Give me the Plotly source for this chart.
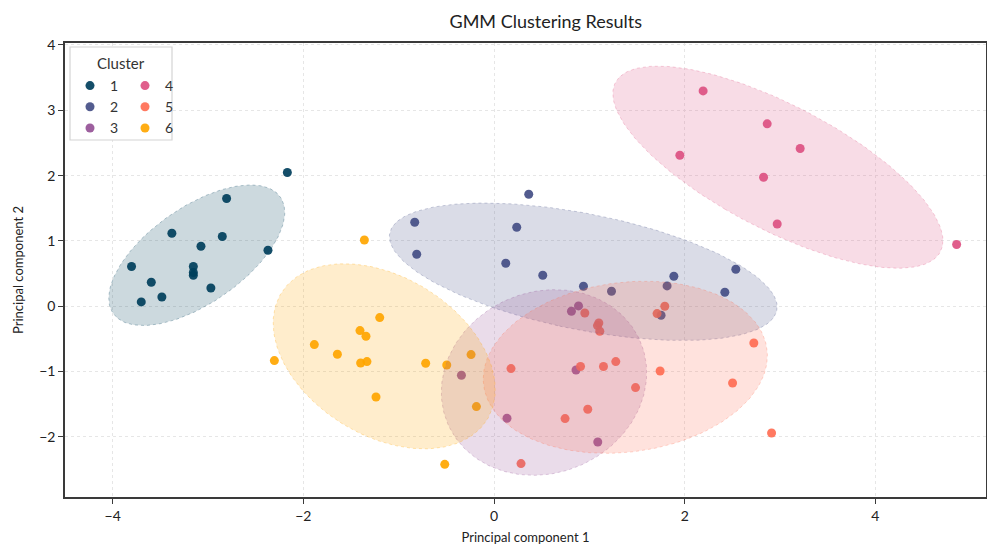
import numpy as np
import plotly.graph_objects as go

# ---------------- data ----------------
cluster_names = ["1", "2", "3", "4", "5", "6"]
colors = ["#003f5c", "#444e86", "#955196", "#dd5182", "#ff6e54", "#ffa600"]

c1_x = [-2.168, -2.805, -3.379, -2.850, -3.074, -2.371, -3.802, -3.154, -3.154, -3.154, -3.595, -2.970, -3.484, -3.700]
c1_y = [2.047, 1.649, 1.118, 1.067, 0.919, 0.858, 0.608, 0.608, 0.516, 0.475, 0.368, 0.280, 0.142, 0.066]

c2_x = [-0.832, 0.364, 0.238, -0.811, 0.123, 0.511, 0.938, 1.232, 1.815, 1.886, 2.536, 2.421, 1.752]
c2_y = [1.286, 1.715, 1.210, 0.796, 0.658, 0.475, 0.306, 0.230, 0.311, 0.459, 0.567, 0.214, -0.138]

c3_x = [-0.342, 0.136, 1.088, 0.860, 0.886, 0.812]
c3_y = [-1.057, -1.715, -2.078, -0.975, 0.005, -0.077]

c4_x = [2.193, 2.865, 3.211, 1.949, 2.827, 2.970, 4.852]
c4_y = [3.297, 2.792, 2.415, 2.312, 1.975, 1.260, 0.945]

c5_x = [0.952, 1.791, 1.710, 1.099, 1.085, 1.109, 2.725, 0.178, 0.907, 1.148, 1.277, 1.742, 2.502, 1.484, 0.745, 0.983, 2.911, 0.283]
c5_y = [-0.103, 0.000, -0.112, -0.256, -0.296, -0.383, -0.562, -0.954, -0.923, -0.923, -0.847, -0.991, -1.175, -1.245, -1.720, -1.577, -1.940, -2.409]

c6_x = [-1.360, -1.199, -1.406, -1.343, -1.885, -2.304, -1.643, -1.399, -1.333, -0.717, -0.496, -0.241, -1.238, -0.185, -0.517]
c6_y = [1.015, -0.173, -0.372, -0.459, -0.587, -0.832, -0.735, -0.868, -0.847, -0.873, -0.899, -0.740, -1.389, -1.536, -2.420]

# GMM component means and (drawn-scale) covariance matrices
means = [(-3.118, 0.781), (0.936, 0.528), (0.524, -1.167), (2.977, 2.129), (1.377, -0.934), (-1.152, -0.766)]
covs = [
    [[0.852, 0.607], [0.607, 1.158]],
    [[4.135, -1.094], [-1.094, 1.107]],
    [[1.16, 0.16], [0.16, 2.02]],
    [[2.997, -1.949], [-1.949, 2.393]],
    [[2.22, 0.265], [0.265, 1.735]],
    [[1.357, -0.594], [-0.594, 2.007]],
]

xs = [c1_x, c2_x, c3_x, c4_x, c5_x, c6_x]
ys = [c1_y, c2_y, c3_y, c4_y, c5_y, c6_y]


def rgba(hex_color, a):
    h = hex_color.lstrip("#")
    r, g, b = int(h[0:2], 16), int(h[2:4], 16), int(h[4:6], 16)
    return f"rgba({r},{g},{b},{a})"


def ellipse(mean, cov, n=200):
    vals, vecs = np.linalg.eigh(np.array(cov))
    L = vecs @ np.diag(np.sqrt(vals))
    t = np.linspace(0, 2 * np.pi, n)
    pts = L @ np.vstack([np.cos(t), np.sin(t)])
    return pts[0] + mean[0], pts[1] + mean[1]


FONT = "Lato, 'DejaVu Sans', sans-serif"
fig = go.Figure()

for i in range(6):
    fig.add_trace(go.Scatter(
        x=xs[i], y=ys[i], mode="markers", name=cluster_names[i],
        marker=dict(size=9, color=colors[i], opacity=0.92, line=dict(width=0)),
        legend="legend" if i < 3 else "legend2",
    ))

for i in range(6):
    ex, ey = ellipse(means[i], covs[i])
    fig.add_trace(go.Scatter(
        x=ex, y=ey, mode="lines", fill="toself",
        fillcolor=rgba(colors[i], 0.2),
        line=dict(color=rgba(colors[i], 0.28), width=1, dash="dot"),
        showlegend=False, hoverinfo="skip",
    ))

# plot area in pixels: x 65..986, y 43..497
W, H = 987, 546
ml, mr, mt, mb = 65, 1, 43, 49
pw, ph = W - ml - mr, H - mt - mb


def px_x(p):
    return (p - ml) / pw


def px_y(p):
    return 1 - (p - mt) / ph


fig.add_shape(type="rect", xref="paper", yref="paper",
              x0=px_x(70), x1=px_x(172), y0=px_y(140), y1=px_y(47),
              fillcolor="white", line=dict(color="#d4d4d4", width=1.2), layer="above")
fig.add_annotation(text="Cluster", xref="paper", yref="paper", x=px_x(121), y=px_y(63),
                   showarrow=False, font=dict(family=FONT, size=15, color="#333"),
                   xanchor="center", yanchor="middle")

axis_common = dict(
    showline=True, linecolor="#3a3a3a", linewidth=1.5, mirror=True,
    ticks="outside", ticklen=5, tickcolor="#3a3a3a", tickwidth=1.2,
    showgrid=True, gridcolor="#e6e6e6", griddash="dot", gridwidth=1,
    zeroline=False, automargin=False,
    tickfont=dict(family=FONT, size=14, color="#222"),
)

fig.update_layout(
    width=W, height=H,
    margin=dict(l=ml, r=mr, t=mt, b=mb),
    paper_bgcolor="white", plot_bgcolor="white",
    title=dict(text="GMM Clustering Results", x=0.553, xanchor="center",
               y=1 - 22 / H, yanchor="middle",
               font=dict(family=FONT, size=18, color="#222")),
    xaxis=dict(range=[-4.5, 5.16], tickvals=[-4, -2, 0, 2, 4],
               title=dict(text="Principal component 1", standoff=10,
                          font=dict(family=FONT, size=13, color="#222")),
               **axis_common),
    yaxis=dict(range=[-2.92, 4.03], tickvals=[-2, -1, 0, 1, 2, 3, 4],
               title=dict(text="Principal component 2", standoff=13,
                          font=dict(family=FONT, size=13, color="#222")),
               **axis_common),
    legend=dict(x=px_x(70), y=px_y(70), xanchor="left", yanchor="top",
                bgcolor="rgba(0,0,0,0)", borderwidth=0,
                font=dict(family=FONT, size=14, color="#333"), itemwidth=30),
    legend2=dict(x=px_x(125), y=px_y(70), xanchor="left", yanchor="top",
                 bgcolor="rgba(0,0,0,0)", borderwidth=0,
                 font=dict(family=FONT, size=14, color="#333"), itemwidth=30),
    showlegend=True,
)

fig.write_html(
    "out.html",
    config={"displayModeBar": False},
    post_script="document.body.style.margin='0';document.body.style.overflow='hidden';",
)
